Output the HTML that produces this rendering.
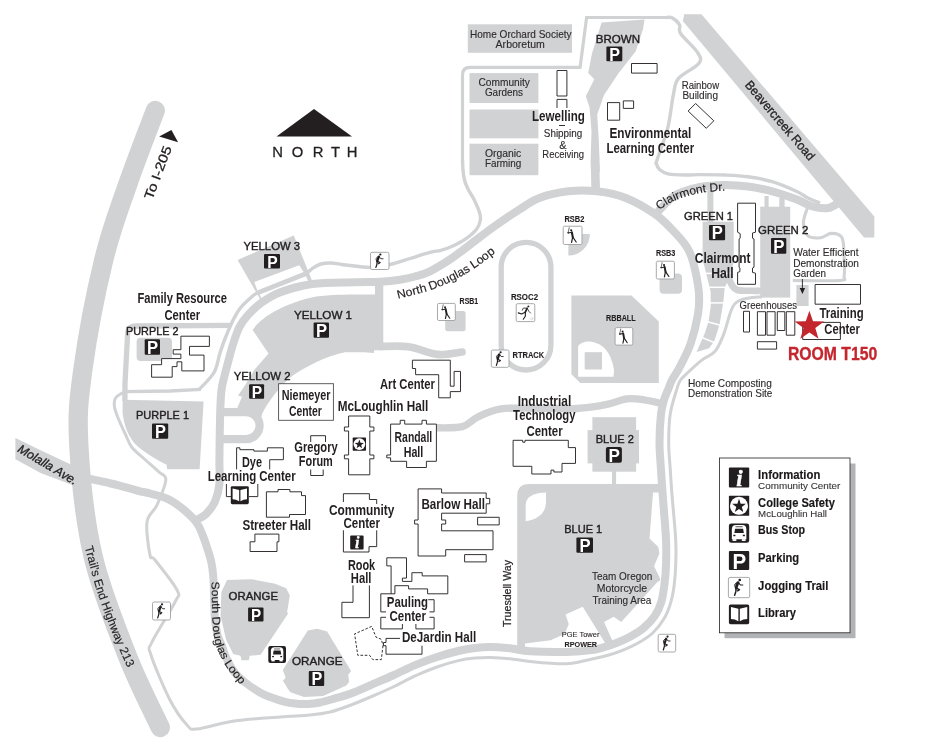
<!DOCTYPE html>
<html lang="en">
<head>
<meta charset="utf-8">
<title>Campus Map</title>
<style>
html,body{margin:0;padding:0;background:#fff;}
body{width:935px;height:740px;overflow:hidden;}
svg{display:block;will-change:transform;}
svg text{font-family:"Liberation Sans",sans-serif;}
</style>
</head>
<body>
<svg width="935" height="740" viewBox="0 0 935 740">
<rect width="935" height="740" fill="#fff"/>
<path d="M155.3 110.5 C150.7 122.9 136.1 160.1 127.5 185 C118.9 209.9 111.2 229.2 103.7 260 C96.2 290.8 87 339.2 82.8 370 C78.6 400.8 77.1 414.2 78.8 445 C80.5 475.8 84.8 520 92.8 555 C100.8 590 115.8 626.2 127 655 C138.2 683.8 154.8 715.4 160.3 727.5" fill="none" stroke="#d0d2d3" stroke-width="19.3" stroke-linecap="round" stroke-linejoin="round" />
<polygon points="15.4,438 40.6,450.3 69.8,464.1 82,470 82,490 73,485.2 40.6,473 15.4,459.2" fill="#d0d2d3" stroke="none" stroke-width="0" />
<polygon points="684.3,14.3 701.5,14.3 874.3,216.5 874.3,237.5 864,237.5 682.8,21" fill="#d0d2d3" stroke="none" stroke-width="0" />
<path d="M122.6 399.8 L203.6 401.6 L199.6 469.2 L167.2 469.2 L166.5 464.5 C158 461 142 451 134.7 443.5 C129 437 124 426 122.6 413 Z" fill="#d0d2d3"/>
<rect x="136.6" y="337.8" width="35.4" height="23.2" rx="4" fill="#d0d2d3" stroke="none" stroke-width="0" />
<polygon points="237.6,259.9 293.8,235.6 312.6,282 262,302.5" fill="#d0d2d3" stroke="none" stroke-width="0" />
<polygon points="254.3,282.1 299.2,265.3 303.6,272 257.3,290.4" fill="#fff" stroke="none" stroke-width="0" />
<polygon points="259.7,294.6 305.9,276.2 309,282.5 290,289.5 275,296.5 263,303" fill="#fff" stroke="none" stroke-width="0" />
<path d="M252.6 330 C262 316 285 303 316 296.5 C336 294 360 294.5 375 294.5 L375 284 L383.3 284 L383.3 350.3 L374 350.3 L374 353 C360 352 345 352.3 345 352.3 C326 356.4 305.4 366.2 288.7 378.7 C276.2 391.2 267.9 402.3 262.3 413.4 L260.9 419 L237.3 408 L242 396.8 L238 395.4 L244.9 385.6 L254 370.3 L268.5 353.6 Z" fill="#d0d2d3"/>
<path d="M221 412.1 L246.1 412.1 A13.5 13.5 0 0 1 246.1 439.1 L221 439.1" fill="none" stroke="#d0d2d3" stroke-width="8.2"/>
<path d="M380 346.5 C384.8 346.5 398.9 345.4 408.5 346.7 C418.1 348 428.5 353.5 437.4 354.4 C446.3 355.3 457.9 352.4 462 352" fill="none" stroke="#d0d2d3" stroke-width="7.7" stroke-linecap="round" stroke-linejoin="round" />
<polygon points="227,580 251.5,579.2 275.2,583.7 286.2,588.3 289.8,595.5 287.1,612 288,613.8 260.6,654.8 249.7,655.8 248.8,660.3 241.5,660.3 240.5,655.8 233.2,654 226,639.5 220.5,615.6 221.4,592" fill="#d0d2d3" stroke="none" stroke-width="0" />
<polygon points="307.8,630.6 317.4,628.7 327.1,631.6 351.1,671.1 348.2,674.9 349.2,681.7 346.3,685.5 323.2,696.1 304,697.1 290.5,692.3 287.6,688.4 284.7,683.6 282.8,680.7 285.7,677.8 282.8,670.1" fill="#d0d2d3" stroke="none" stroke-width="0" />
<rect x="592.4" y="417.2" width="43.7" height="54.5" rx="0" fill="#d0d2d3" stroke="none" stroke-width="0" />
<rect x="587.6" y="430.1" width="51.4" height="33.3" rx="0" fill="#d0d2d3" stroke="none" stroke-width="0" />
<rect x="612" y="470" width="4.1" height="15" rx="0" fill="#d0d2d3" stroke="none" stroke-width="0" />
<path d="M517.2 650 L517.2 496 Q517.2 483.9 529 483.9 L662 483.9 L662 492.5 L653 492.5 L649.5 538.5 L658.3 547 L659.4 553.4 L654 566.3 L659.4 577 L660.4 580.2 L657.2 582.3 L621.2 622.1 L613.7 616.7 L604 622 L613 642 L607 646 L582.7 606.7 L565.6 614.6 L568.8 624.2 L564.5 633.9 L550.6 640.3 L525 643.5 L525 650 Z" fill="#d0d2d3"/>
<path d="M525.7 521.3 L525.7 505 Q526 493 546 492.5 L546 503 Q545 518 525.7 521.3 Z" fill="#fff"/>
<polygon points="601.6,22.6 644.6,19.6 643,29.3 635.7,51.2 618.7,73.1 604,95 597.2,114.5 598.8,141.2 599.6,160.7 599.8,172 591,172 590.6,160.7 591.5,131.5 589.5,107.2 585.8,96.2 594.3,79.2 588.2,73.1 591.9,53.7" fill="#d0d2d3" stroke="none" stroke-width="0" />
<path d="M595.2 165 C595.2 167.2 595.3 173.5 595.4 178 C595.5 182.5 595.7 189.7 595.8 192" fill="none" stroke="#d0d2d3" stroke-width="8.6" stroke-linecap="butt" stroke-linejoin="round" />
<rect x="467.8" y="24.3" width="104.2" height="28.5" rx="0" fill="#d0d2d3" stroke="none" stroke-width="0" />
<rect x="469.5" y="73.1" width="68.9" height="29.9" rx="0" fill="#d0d2d3" stroke="none" stroke-width="0" />
<rect x="469.5" y="109.5" width="68.9" height="28.8" rx="0" fill="#d0d2d3" stroke="none" stroke-width="0" />
<rect x="469.5" y="143.7" width="68.9" height="31.5" rx="0" fill="#d0d2d3" stroke="none" stroke-width="0" />
<rect x="702.6" y="221.7" width="31.1" height="41.3" rx="0" fill="#d0d2d3" stroke="none" stroke-width="0" />
<rect x="707.4" y="190" width="6" height="33" rx="0" fill="#d0d2d3" stroke="none" stroke-width="0" />
<polygon points="703.3,262 707,276.9 710.7,291.7 710.7,306.6 708.5,321.5 704.7,333.4 699.5,345.3 696.6,352 709.2,348.2 714.4,340.8 719.6,324.5 723.3,302.1 724.8,287.3 730,276.9 733.7,262" fill="#d0d2d3" stroke="none" stroke-width="0" />
<path d="M703 273.4 L734 273.4" stroke="#fff" stroke-width="1.5"/>
<path d="M708 287.3 L727 287.3" stroke="#fff" stroke-width="1.5"/>
<path d="M708 302.9 L726 302.9" stroke="#fff" stroke-width="1.5"/>
<path d="M705 321 L722 325.8" stroke="#fff" stroke-width="1.5"/>
<path d="M700 336.8 L716 343.2" stroke="#fff" stroke-width="1.5"/>
<rect x="760.2" y="206.7" width="30" height="90.9" rx="0" fill="#d0d2d3" stroke="none" stroke-width="0" />
<rect x="764.5" y="196" width="4.1" height="12" rx="0" fill="#d0d2d3" stroke="none" stroke-width="0" />
<rect x="779.3" y="198" width="5.3" height="10" rx="0" fill="#d0d2d3" stroke="none" stroke-width="0" />
<path d="M790 291 C784.2 291 763.8 291 755 290.8 C746.2 290.6 741.5 291.2 737.5 290 C733.5 288.8 732.6 286.2 731 283.5 C729.4 280.8 728.5 275.6 728 274" fill="none" stroke="#d0d2d3" stroke-width="6.7" stroke-linecap="butt" stroke-linejoin="round" />
<rect x="796.4" y="285" width="12.2" height="21" rx="0" fill="#d0d2d3" stroke="none" stroke-width="0" />
<polygon points="571.4,295.4 631.5,295.4 658.8,321.4 658.8,383 580.4,383 571.4,374.3" fill="#d0d2d3" stroke="none" stroke-width="0" />
<path d="M578.1 376.8 L578.1 346 Q582 341 590 341.5 Q610 344 614 370 L613.5 376.8 Z" fill="#fff"/>
<rect x="584.7" y="352.2" width="17.3" height="17.3" rx="0" fill="#d0d2d3" stroke="none" stroke-width="0" />
<rect x="445.2" y="310.9" width="20.4" height="20.3" rx="2.5" fill="#d0d2d3" stroke="none" stroke-width="0" />
<rect x="659.6" y="273.4" width="22.4" height="20.3" rx="4" fill="#d0d2d3" stroke="none" stroke-width="0" />
<path d="M568.4 234.1 L589.9 234.1 A21.5 21.5 0 0 1 568.4 255.6 Z" fill="#d0d2d3"/>
<rect x="501.2" y="242.4" width="49.7" height="127.6" rx="24.8" fill="none" stroke="#d0d2d3" stroke-width="5.3"/>
<path d="M86 478 C89.2 478.7 99 480.6 105 482 C111 483.4 116.2 484.8 122 486.3 C127.8 487.9 135.3 490.1 140 491.3 C144.7 492.5 145.4 492.2 150 493.5 C154.6 494.8 162 496.2 167.6 498.8 C173.2 501.4 178.6 505.4 183.4 509.4 C188.2 513.4 193.3 518.2 196.6 522.6 C199.9 527 201.2 531.6 203 536 C204.8 540.4 206.1 544.7 207.5 549 C208.9 553.3 210.3 557.2 211.3 562 C212.3 566.8 212.9 571.7 213.4 578 C213.9 584.3 213.9 593 214.2 600 C214.5 607 214.4 614.2 215 620 C215.6 625.8 216.4 630.8 217.5 635 C218.6 639.2 220.3 641.6 221.6 645 C222.9 648.4 223.3 651 225.2 655.3 C227.1 659.6 229.9 666.1 233.2 670.6 C236.5 675.1 240.7 678.9 245.2 682.5 C249.7 686.1 255.3 689.8 260 692.4 C264.7 695 269.4 696.7 273.6 698.3 C277.8 699.9 281.4 700.9 285 701.8 C288.6 702.7 291.3 703.1 295 703.5 C298.7 703.9 303.1 704.2 307.3 704 C311.5 703.8 315.4 703.4 320 702.5 C324.6 701.6 329.8 699.9 335 698.4 C340.2 696.9 344.7 695.9 351 693.5 C357.3 691.1 365.6 687.3 372.8 684.2 C380 681.1 386.9 678.2 394 675 C401.1 671.8 408.4 667.9 415.6 664.9 C422.8 661.9 429.9 659.3 437 657 C444.1 654.7 452 652.5 458.3 651 C464.6 649.5 469.6 648.7 475 648 C480.4 647.3 484.6 646.9 490.4 646.9 C496.2 646.9 503.4 647.6 510 648.3 C516.6 649 520.7 650.7 530 651.3 C539.3 651.9 555.6 652.2 565.6 652 C575.6 651.8 584.1 650.9 590 650.3 C595.9 649.6 596.3 649.4 600.8 648.1 C605.3 646.8 612 644.7 617 642.7 C622 640.7 626.5 638.7 631 636.2 C635.5 633.7 640 631 644 627.6 C648 624.2 652 620 654.9 615.7 C657.8 611.4 659.8 607.1 661.4 601.6 C663 596.1 663.8 589.1 664.6 583 C665.4 576.9 665.8 572.2 666 565 C666.2 557.8 666.5 551.2 666 539.5 C665.5 527.8 663.5 506.5 662.7 494.9 C661.9 483.3 661.5 478.6 661 470 C660.5 461.4 659.5 452.3 659.5 443 C659.5 433.7 660.2 421.2 661 414 C661.8 406.8 662.8 404.2 664 400 C665.2 395.8 667.2 391.9 668.5 388.6 C669.8 385.3 670.2 383.5 672 380 C673.8 376.5 676.4 373.5 679.5 367.5 C682.6 361.5 687.5 352.7 690.6 343.8 C693.7 334.9 696.6 322.7 698 314 C699.4 305.3 699.6 300.4 698.8 291.7 C698 283 695.1 269.5 693.1 262 C691.1 254.5 690 251.9 686.5 246.5 C683 241.1 677.3 234.9 672 229.5 C666.7 224.1 662.5 219.2 654.8 213.9 C647.1 208.7 635.5 201.8 625.9 198 C616.3 194.2 606.6 192.4 597 191.3 C587.4 190.2 577.7 190.2 568.1 191.3 C558.5 192.4 547.3 195 539.3 198 C531.3 201 527.4 204.4 520 209.1 C512.6 213.8 502.7 220.5 494.9 226 C487.1 231.5 480.4 236.8 473.2 242.2 C466 247.6 458.8 253.5 451.6 258.4 C444.4 263.2 436.1 268.3 430 271.3 C423.9 274.3 420 275.1 415 276.5 C410 277.9 405.8 278.9 400 279.8 C394.2 280.7 387.5 281.4 380 281.8 C372.5 282.2 366.1 281.9 354.8 282.3 C343.5 282.7 324.9 282.3 312.4 284 C299.9 285.7 288.4 289.2 279.7 292.5 C271 295.8 265.8 299.6 260.4 303.5 C255 307.4 251 311.8 247.5 315.7 C244 319.6 241.8 322.5 239.5 326.8 C237.2 331.1 235.5 336.9 234 341.3 C232.5 345.7 231.9 347.9 230.5 353 C229.1 358.1 226.9 366.7 225.5 372 C224.1 377.3 223.1 380.7 222.3 385 C221.5 389.3 221.2 390.5 220.8 398 C220.4 405.5 220 419.7 219.8 430 C219.6 440.3 219.5 451 219.4 460 C219.3 469 220.1 477.1 219.4 484 C218.7 490.9 217.2 496.5 215 501.5 C212.8 506.5 209.3 510.7 206.2 513.8 C203.1 516.9 198.1 519 196.5 520" fill="none" stroke="#d0d2d3" stroke-width="8" stroke-linecap="butt" stroke-linejoin="round" />
<path d="M199 389.6 C201.5 386.8 210.5 378.6 214 372.5 C217.5 366.4 218.1 358.8 220 353 C221.9 347.2 223.2 343.2 225.3 338 C227.4 332.8 229.9 326.6 232.3 321.7 C234.8 316.8 236.9 312.5 240 308.5 C243.1 304.5 247.9 300.2 251 297.5 C254.1 294.8 253.3 294.8 258.4 292.4 C263.5 290 273.8 286.2 281.5 283.2 C289.2 280.2 299.5 276.6 304.6 274.2 C309.7 271.8 309.5 270.3 312.2 268.6 C314.9 266.9 317.9 264.9 321 264 C324.1 263.1 327.3 262.9 331 263 C334.7 263.1 336.7 263.9 343.2 264.7 C349.7 265.4 362.5 267.5 370.2 267.5 C377.9 267.5 382.8 266.2 389.4 264.7 C396 263.2 403.2 260.6 410 258.5 C416.8 256.4 424.9 253.8 430 252.4 C435.1 251 437.2 251.3 440.8 250.3 C444.4 249.3 447.5 248.4 451.6 246.5 C455.8 244.6 461.6 241.8 465.7 238.9 C469.8 236 474.1 232.3 476.5 229.2 C478.9 226.1 479.8 223.2 480.3 220.5 C480.8 217.8 480.7 216.4 479.7 213 C478.7 209.6 476.2 204 474.3 200 C472.4 196 469.6 192.3 468 189 C466.4 185.7 465.3 183.2 464.5 180 C463.7 176.8 463.3 173.3 463 170 C462.7 166.7 462.6 161.7 462.5 160" fill="none" stroke="#d0d2d3" stroke-width="3.4" stroke-linecap="butt" stroke-linejoin="round" />
<path d="M462.5 162 L462.5 75 Q462.5 67.3 470 67.3 L580.1 67.3 L586.6 17.5 L668 17.5" fill="none" stroke="#d0d2d3" stroke-width="3.2"/>
<path d="M666 17.5 C667 17.6 669.7 16.6 672 17.8 C674.3 19.1 678.2 22.4 679.6 25 C681 27.6 677.6 28.9 680.6 33.5 C683.6 38.1 694.8 47.8 697.8 52.8 C700.8 57.8 702 59.2 698.8 63.5 C695.6 67.8 682.8 73.1 678.5 78.4 C674.2 83.8 675 87.4 673.2 95.6 C671.4 103.8 670.5 116.9 667.8 127.6 C665.1 138.3 659 153.5 657.1 159.7 C655.2 165.8 656.3 162.9 656.7 164.5 C657.1 166.1 657.6 167.9 659.5 169.5 C661.4 171.1 663.6 172.9 668 173.8 C672.4 174.7 680.3 174.9 685.6 175 C690.9 175.1 693.4 174.6 700 174.6 C706.6 174.6 717 174.6 725 175 C733 175.4 740.1 175.7 748 176.8 C755.9 177.9 764.2 179.3 772.2 181.7 C780.2 184.1 790.2 188.5 796.3 191.3 C802.4 194.1 805 196.6 809 198.5 C813 200.4 818.2 202.2 820 203" fill="none" stroke="#d0d2d3" stroke-width="3.4" stroke-linecap="butt" stroke-linejoin="round" />
<path d="M230 325.4 L136 326 Q127.8 326 127.6 334 L125 383 L124.9 401" fill="none" stroke="#d0d2d3" stroke-width="5.3"/>
<path d="M124 391.6 L170 391 L201 389.4" fill="none" stroke="#d0d2d3" stroke-width="3.3"/>
<path d="M657.8 212 C660.6 209.2 667.9 199.7 674.9 195.5 C681.9 191.3 691.8 188.8 700 187 C708.2 185.2 716 185 724 184.9 C732 184.8 740.1 185.4 748.1 186.5 C756.1 187.6 764.2 189.2 772.2 191.3 C780.2 193.4 789.6 196.8 796.3 199.3 C803 201.8 807 204.9 812.3 206.3 C817.6 207.8 823.7 208.7 828.3 208 C832.9 207.3 838 203 840 202" fill="none" stroke="#d0d2d3" stroke-width="8" stroke-linecap="butt" stroke-linejoin="round" />
<path d="M436.4 427.8 C440.7 427.6 455.5 428.4 462.4 426.6 C469.3 424.8 471.4 420 477.8 417 C484.2 414 490.5 410.2 500.9 408.8 C511.3 407.4 527.3 408.4 540 408.3 C552.7 408.2 566 409.1 577 408.5 C588 407.9 597.6 406.3 605.9 404.7 C614.2 403.1 620.5 399.7 627 398.9 C633.5 398.1 639.3 399.2 645 400 C650.7 400.8 658.3 402.9 661 403.5" fill="none" stroke="#d0d2d3" stroke-width="7.3" stroke-linecap="butt" stroke-linejoin="round" />
<path d="M123 392.5 C121.8 393.4 116.9 395.6 115.5 398 C114.1 400.4 114 403.5 114.5 407 C115 410.5 116.7 414.5 118.5 419 C120.3 423.5 123 429.2 125.3 434 C127.5 438.8 128.6 443.2 132 447.5 C135.4 451.8 141 455.9 145.5 460 C150 464.1 155.6 468.7 159 472 C162.4 475.3 166.1 474.5 165.8 480 C165.5 485.5 160.1 498 157 505 C153.9 512 148.2 513.7 147 522 C145.8 530.3 148.7 548.7 150 555 C151.3 561.3 150.5 554.2 155 560 C159.5 565.8 173.7 583 177 590 C180.3 597 179.2 593.3 175 602 C170.8 610.7 156 633.2 152 642 C148 650.8 148 645.3 151 655 C154 664.7 164 688.3 170 700 C176 711.7 182.5 720.2 187 725 C191.5 729.8 189.2 729.7 197 729 C204.8 728.3 220.2 723 234 721 C247.8 719 267.3 718 280 717 C292.7 716 301.7 715.8 310 715 C318.3 714.2 323.2 713.7 330 712 C336.8 710.3 343.9 707.7 351 705 C358.1 702.3 365.6 699.1 372.8 696 C380 692.9 386.9 689.9 394 686.5 C401.1 683.1 408.4 678.9 415.6 675.6 C422.8 672.4 429.9 669.5 437 667 C444.1 664.5 452 662.1 458.3 660.6 C464.6 659.1 469.6 658.5 475 658 C480.4 657.5 484.6 657.3 490.4 657.4 C496.2 657.5 503.4 658 510 658.7 C516.6 659.4 520.7 660.6 530 661.5 C539.3 662.4 555.6 664.1 565.6 663.8 C575.6 663.5 583.2 660.9 590 659.5 C596.8 658.1 600.8 657.2 606.2 655.7 C611.6 654.2 617 652.5 622.4 650.3 C627.8 648.1 633.5 645.6 638.6 642.7 C643.7 639.8 648.4 637.1 652.7 633 C657 628.9 661.6 623 664.6 617.8 C667.6 612.6 669.4 607.1 671 601.6 C672.6 596.1 673.4 591.1 674.2 585 C675 578.9 675.5 572.6 675.7 565 C676 557.4 676.3 551.2 675.7 539.5 C675.1 527.8 672.9 506.5 672 494.9 C671.1 483.3 670.8 478.6 670.3 470 C669.8 461.4 668.7 452.3 668.7 443 C668.7 433.7 668.8 423.3 670.2 414.2 C671.6 405.1 675.3 394.3 677 388.6 C678.7 382.9 678.6 382.8 680.5 380 C682.4 377.2 684.9 375.3 688.4 372 C691.9 368.7 697.3 363.6 701.8 360.1 C706.2 356.6 711.4 355.6 715.1 351.2 C718.8 346.8 721.3 340.3 724 333.4 C726.7 326.5 729 315.1 731.5 309.6 C734 304.2 735.1 302.8 739 300.7 C742.9 298.6 751.2 297.8 755 297.2 C758.8 296.6 760.8 297 762 297" fill="none" stroke="#d0d2d3" stroke-width="3" stroke-linecap="butt" stroke-linejoin="round" />
<path d="M807.7 207 C807 209.6 803.4 217.9 803.4 222.7 C803.4 227.5 804.8 233.1 807.7 235.6 C810.6 238.1 816.7 238.1 820.6 237.7 C824.5 237.3 827.7 233.4 831.3 233.4 C834.9 233.4 839.9 233.8 842 237.7 C844.1 241.6 843.8 250.6 844.1 257 C844.5 263.4 844.8 272.1 844.1 276 C843.4 279.9 848.3 279.8 839.8 280.5 C831.2 281.2 800.6 280.5 792.8 280.5" fill="none" stroke="#d0d2d3" stroke-width="3.1" stroke-linecap="butt" stroke-linejoin="round" />
<path d="M180.9 336.2 L209.4 336.2 L209.4 346.4 L189.5 346.4 L189.5 355.1 L204 355.1 L204 370.9 L181.8 370.9 L181.8 361.8 L177 361.8 L177 366.6 L172.2 366.6 L172.2 377.2 L151.6 377.2 L151.6 364.7 L161.6 364.7 L161.6 358.6 L180.9 358.6 L180.9 354.1 L173.2 354.1 L173.2 349.7 L180.9 349.7Z" fill="#fff" stroke="#2b2728" stroke-width="0.95"/>
<rect x="278.6" y="383.7" width="54.8" height="36.6" rx="0" fill="#fff" stroke="#4d4d4f" stroke-width="0.9" />
<path d="M348.6 416 L369.8 416 L369.8 427 L373.9 427 L373.9 431 L369.8 431 L369.8 455 L373.9 455 L373.9 458.8 L369.8 458.8 L369.8 474.8 L348.6 474.8 L348.6 458.8 L344.4 458.8 L344.4 455 L348.6 455 L348.6 431 L344.4 431 L344.4 427 L348.6 427Z" fill="#fff" stroke="#2b2728" stroke-width="0.95"/>
<path d="M310.7 442 L310.7 435.7 L325.5 435.7 L325.5 442" fill="none" stroke="#2b2728" stroke-width="0.95"/>
<path d="M310.7 469.5 L310.7 475.5 L323.2 475.5 L323.2 469.5" fill="none" stroke="#2b2728" stroke-width="0.95"/>
<path d="M236.6 469.4 L236.6 447.8 L239.9 447.8 L239.9 449.7 L253.9 449.7 L253.9 451.1 L267.4 451.1 L267.4 447.8 L283.4 447.8 L283.4 459.7 L269.7 459.7 L269.7 469.4" fill="none" stroke="#2b2728" stroke-width="0.95"/>
<path d="M226.4 484 L226.4 496.6 L231 496.6" fill="none" stroke="#2b2728" stroke-width="0.95"/>
<path d="M257.8 484 L257.8 496.6 L249 496.6" fill="none" stroke="#2b2728" stroke-width="0.95"/>
<path d="M266.4 491.8 L278 491.8 L278 489.5 L289.9 489.5 L289.9 491.8 L301.5 491.8 L301.5 495.6 L305.5 495.6 L305.5 514.5 L289.5 514.5 L289.5 517.2 L266.4 517.2Z" fill="#fff" stroke="#2b2728" stroke-width="0.95"/>
<path d="M250.1 541.8 L254.9 541.8 L254.9 534.1 L278.9 534.1 L278.9 541.8 L277 541.8 L277 551.5 L250.1 551.5Z" fill="#fff" stroke="#2b2728" stroke-width="0.95"/>
<path d="M343.4 502 L343.4 493.7 L369.4 493.7 L369.4 499.5 L376.7 499.5 L376.7 504" fill="none" stroke="#2b2728" stroke-width="0.95"/>
<path d="M376.7 530.3 L376.7 546.6 L369 546.6 L369 552 L343.4 552 L343.4 530.3" fill="none" stroke="#2b2728" stroke-width="0.95"/>
<path d="M353 585.4 L353 602.3 L341.9 602.3 L341.9 617.7 L369.4 617.7 L369.4 585.4" fill="none" stroke="#2b2728" stroke-width="0.95"/>
<path d="M412.4 360.2 L450.3 360.2 L450.3 386.2 L454.1 386.2 L454.1 371.4 L460.5 371.4 L460.5 391.6 L450.3 391.6 L450.3 397.8 L438.7 397.8 L438.7 374.7 L415.6 374.7 L415.6 368.5 L412.4 368.5Z" fill="#fff" stroke="#2b2728" stroke-width="0.95"/>
<path d="M390.6 424.1 L400.2 424.1 L400.2 420.3 L404.7 420.3 L404.7 424.1 L422 424.1 L422 420.3 L426.4 420.3 L426.4 424.1 L436.4 424.1 L436.4 461.3 L426.4 461.3 L426.4 467.5 L406.6 467.5 L406.6 461.3 L390.6 461.3 L390.6 457.8 L386.8 457.8 L386.8 455 L390.6 455Z" fill="#fff" stroke="#2b2728" stroke-width="0.95"/>
<path d="M513.1 440.3 L522.7 440.3 L522.7 442.2 L525 442.2 L525 440.3 L568.3 440.3 L568.3 447.6 L575.5 447.6 L575.5 463.4 L562 463.4 L562 472 L553.9 472 L553.9 470.1 L551 470.1 L551 474 L531.8 474 L531.8 466.3 L513.1 466.3Z" fill="#fff" stroke="#2b2728" stroke-width="0.95"/>
<path d="M418.1 488.9 L441.6 488.9 L441.6 493 L486.2 493 L486.2 498.4 L489.7 498.4 L489.7 503.8 L486.2 503.8 L486.2 513.2 L441.6 513.2 L441.6 520 L445.7 520 L445.7 524 L441.6 524 L441.6 530.8 L493 530.8 L493 549.7 L445.7 549.7 L445.7 556 L418.1 556 L418.1 524 L414.6 524 L414.6 520 L418.1 520Z" fill="#fff" stroke="#2b2728" stroke-width="0.95"/>
<path d="M477.6 517.3 L499.2 517.3 L499.2 524.9 L477.6 524.9Z" fill="#fff" stroke="#2b2728" stroke-width="0.95"/>
<path d="M464.6 554.6 L486.2 554.6 L486.2 561.9 L464.6 561.9Z" fill="#fff" stroke="#2b2728" stroke-width="0.95"/>
<path d="M391.1 593.8 L391.1 565.9 L386.8 565.9 L386.8 557.8 L406.5 557.8 L406.5 578.1 L402.4 578.1 L402.4 581.4 L411.9 581.4 L411.9 572.7 L422.2 572.7 L422.2 575.9 L447.8 575.9 L447.8 593.8 L427.6 593.8 L427.6 588.9 L408.6 588.9 L408.6 585.7 L394.9 585.7 L394.9 593.8" fill="none" stroke="#2b2728" stroke-width="0.95"/>
<path d="M394.9 593.8 L380.8 593.8 L380.8 611.9 L386 611.9" fill="none" stroke="#2b2728" stroke-width="0.95"/>
<path d="M386 617.3 L380.8 617.3 L380.8 628.9 L402.4 628.9 L402.4 624" fill="none" stroke="#2b2728" stroke-width="0.95"/>
<path d="M415.9 624 L415.9 628.9 L434.1 628.9 L434.1 617.3 L429.5 617.3" fill="none" stroke="#2b2728" stroke-width="0.95"/>
<path d="M429.5 611.9 L434.1 611.9 L434.1 599.7 L428.2 599.7" fill="none" stroke="#2b2728" stroke-width="0.95"/>
<path d="M400 638.4 L386 638.4 L386 642.5 L383.5 642.5 L383.5 645.7 L386 645.7 L386 654.2 L422 654.2 L422 645.7" fill="none" stroke="#2b2728" stroke-width="0.95"/>
<path d="M383 645.7 L381.3 659.6 L372.8 659.6 L369.6 655.3 L357.8 655.3 L354.6 633.9 L371.7 626.4 L376 637.1 L381.3 639.3 L383 645.7" fill="none" stroke="#2b2728" stroke-width="0.95" stroke-dasharray="2.6 1.7"/>
<path d="M557 70.5 L566.9 70.5 L566.9 96 L557 96Z" fill="#fff" stroke="#2b2728" stroke-width="0.95"/>
<path d="M557 108 L557 99.4 L566.9 99.4 L566.9 108" fill="none" stroke="#2b2728" stroke-width="0.95"/>
<path d="M559 125.5 L565 125.5" fill="none" stroke="#2b2728" stroke-width="0.95"/>
<path d="M631.5 63.5 L657.1 63.5 L657.1 73.1 L631.5 73.1Z" fill="#fff" stroke="#2b2728" stroke-width="0.95"/>
<path d="M607.5 102.6 L619.7 102.6 L619.7 120.2 L607.5 120.2Z" fill="#fff" stroke="#2b2728" stroke-width="0.95"/>
<path d="M623.3 100.9 L633.6 100.9 L633.6 108.4 L623.3 108.4Z" fill="#fff" stroke="#2b2728" stroke-width="0.95"/>
<path d="M695.6 103.5 L713.8 120.8 L706.3 128.3 L688.1 111Z" fill="#fff" stroke="#2b2728" stroke-width="0.95"/>
<path d="M737.6 203.2 L755.5 203.2 L755.5 232.2 L752.5 233 L752.5 238.2 L754 239 L754 267.2 L752.5 268 L752.5 272.4 L755.5 273.2 L755.5 284.3 L737.6 284.3 L737.6 272.4 L739.9 271.6 L739.9 268 L739.1 267.2 L739.1 239 L740.2 238.2 L740.2 233.7 L737.6 232.2Z" fill="#fff" stroke="#2b2728" stroke-width="0.95"/>
<path d="M815.1 284.5 L860.5 284.5 L860.5 304.2 L815.1 304.2Z" fill="#fff" stroke="#2b2728" stroke-width="0.95"/>
<path d="M802.7 322.4 L840.4 322.4 L840.4 339.5 L802.7 339.5Z" fill="#fff" stroke="#2b2728" stroke-width="0.95"/>
<path d="M743.5 311.3 L749.5 311.3 L749.5 332 L743.5 332Z" fill="#fff" stroke="#2b2728" stroke-width="0.95"/>
<path d="M757.4 311.7 L765.5 311.7 L765.5 335.2 L757.4 335.2Z" fill="#fff" stroke="#2b2728" stroke-width="0.95"/>
<path d="M767 311.7 L775.1 311.7 L775.1 335.2 L767 335.2Z" fill="#fff" stroke="#2b2728" stroke-width="0.95"/>
<path d="M777.3 311.7 L784.8 311.7 L784.8 330.5 L777.3 330.5Z" fill="#fff" stroke="#2b2728" stroke-width="0.95"/>
<path d="M786.3 311.7 L794.8 311.7 L794.8 335.2 L786.3 335.2Z" fill="#fff" stroke="#2b2728" stroke-width="0.95"/>
<path d="M757.4 341.7 L776.6 341.7 L776.6 349.1 L757.4 349.1Z" fill="#fff" stroke="#2b2728" stroke-width="0.95"/>
<polygon points="314,109 276.5,136.5 352,136.5" fill="#231f20" stroke="none" stroke-width="0" />
<text x="277.5" y="156.5" font-size="14.8" fill="#231f20" stroke="#231f20" stroke-width="0.3" stroke-linejoin="round" text-anchor="middle">N</text>
<text x="297.5" y="156.5" font-size="14.8" fill="#231f20" stroke="#231f20" stroke-width="0.3" stroke-linejoin="round" text-anchor="middle">O</text>
<text x="318" y="156.5" font-size="14.8" fill="#231f20" stroke="#231f20" stroke-width="0.3" stroke-linejoin="round" text-anchor="middle">R</text>
<text x="335.5" y="156.5" font-size="14.8" fill="#231f20" stroke="#231f20" stroke-width="0.3" stroke-linejoin="round" text-anchor="middle">T</text>
<text x="352" y="156.5" font-size="14.8" fill="#231f20" stroke="#231f20" stroke-width="0.3" stroke-linejoin="round" text-anchor="middle">H</text>
<polygon points="159.2,136.4 171.4,130 178.1,142.2" fill="#231f20" stroke="none" stroke-width="0" />
<text x="152.3" y="200.3" font-size="13" fill="#231f20" stroke="#231f20" stroke-width="0.3" stroke-linejoin="round" textLength="56" lengthAdjust="spacingAndGlyphs" transform="rotate(-69.5 152.3 200.3)">To I-205</text>
<text x="16.8" y="451.3" font-size="12.3" fill="#231f20" stroke="#231f20" stroke-width="0.3" stroke-linejoin="round" textLength="67" lengthAdjust="spacingAndGlyphs" transform="rotate(30.5 16.8 451.3)" style="font-style:italic">Molalla Ave.</text>
<path id="pTE" d="M84.8 547 C86.8 554.3 92.2 576.2 97 591 C101.8 605.8 107.4 621 113.5 636 C119.6 651 130.2 673.5 133.5 681" fill="none"/>
<text font-size="11.8" fill="#231f20" stroke="#231f20" stroke-width="0.15"><textPath href="#pTE" startOffset="0" textLength="128" lengthAdjust="spacingAndGlyphs">Trail’s End Highway 213</textPath></text>
<path id="pSD" d="M211.6 581.5 C211.6 584.6 211.7 593.6 211.8 600 C212 606.4 212.1 613.3 212.5 620 C212.9 626.7 213.5 634.7 214.5 640 C215.5 645.3 216.7 647.9 218.5 652 C220.3 656.1 222.8 660.9 225.2 664.8 C227.6 668.7 230.3 672 233 675.5 C235.7 679 240.1 684.2 241.5 686" fill="none"/>
<text font-size="11.3" fill="#231f20" stroke="#231f20" stroke-width="0.15"><textPath href="#pSD" textLength="111" lengthAdjust="spacingAndGlyphs">South Douglas Loop</textPath></text>
<path id="pND" d="M398 298.8 C403.3 297.4 420.9 293.3 429.6 290.5 C438.3 287.7 443.6 285 450 282 C456.4 279 462.7 275.6 468 272.4 C473.3 269.2 477.2 266.5 482 263 C486.8 259.5 494.5 253.4 497 251.5" fill="none"/>
<text font-size="11.8" fill="#231f20" stroke="#231f20" stroke-width="0.15"><textPath href="#pND" textLength="109" lengthAdjust="spacingAndGlyphs">North Douglas Loop</textPath></text>
<path id="pCD" d="M659 210 C661.8 208.3 669.2 202.8 676 200 C682.8 197.2 691.7 194.6 700 193 C708.3 191.4 721.7 190.9 726 190.5" fill="none"/>
<text font-size="11.8" fill="#231f20" stroke="#231f20" stroke-width="0.15"><textPath href="#pCD" textLength="70" lengthAdjust="spacingAndGlyphs">Clairmont Dr.</textPath></text>
<text x="744.3" y="85.2" font-size="12.8" fill="#231f20" stroke="#231f20" stroke-width="0.3" stroke-linejoin="round" textLength="100" lengthAdjust="spacingAndGlyphs" transform="rotate(49.6 744.3 85.2)">Beavercreek Road</text>
<text x="510.5" y="627" font-size="10.4" fill="#2e2a2b" stroke="#2e2a2b" stroke-width="0.25" stroke-linejoin="round" textLength="67" lengthAdjust="spacingAndGlyphs" transform="rotate(-90 510.5 627)">Truesdell Way</text>
<text x="243.5" y="250" font-size="11.6" fill="#231f20" stroke="#231f20" stroke-width="0.42" stroke-linejoin="round" textLength="56.5" lengthAdjust="spacingAndGlyphs">YELLOW 3</text>
<rect x="264" y="254" width="16" height="14.5" rx="1" fill="#231f20" stroke="none" stroke-width="0" />
<text x="272.4" y="267.8" font-size="17.4" font-weight="bold" fill="#fff" text-anchor="middle" transform="translate(272 0) scale(0.9 1) translate(-272 0)">P</text>
<text x="294" y="318.5" font-size="11.6" fill="#231f20" stroke="#231f20" stroke-width="0.42" stroke-linejoin="round" textLength="58" lengthAdjust="spacingAndGlyphs">YELLOW 1</text>
<rect x="313.6" y="322.4" width="15.4" height="15.4" rx="1" fill="#231f20" stroke="none" stroke-width="0" />
<text x="321.7" y="337" font-size="18.5" font-weight="bold" fill="#fff" text-anchor="middle" transform="translate(321.3 0) scale(0.9 1) translate(-321.3 0)">P</text>
<text x="233.7" y="380.2" font-size="11.6" fill="#231f20" stroke="#231f20" stroke-width="0.42" stroke-linejoin="round" textLength="56.8" lengthAdjust="spacingAndGlyphs">YELLOW 2</text>
<rect x="249.1" y="384.3" width="15" height="14.4" rx="1" fill="#231f20" stroke="none" stroke-width="0" />
<text x="257" y="398" font-size="17.3" font-weight="bold" fill="#fff" text-anchor="middle" transform="translate(256.6 0) scale(0.9 1) translate(-256.6 0)">P</text>
<text x="126" y="335" font-size="11.6" fill="#231f20" stroke="#231f20" stroke-width="0.42" stroke-linejoin="round" textLength="52.5" lengthAdjust="spacingAndGlyphs">PURPLE 2</text>
<rect x="144.7" y="339.3" width="15.3" height="15.4" rx="1" fill="#231f20" stroke="none" stroke-width="0" />
<text x="152.7" y="353.9" font-size="18.5" font-weight="bold" fill="#fff" text-anchor="middle" transform="translate(152.3 0) scale(0.9 1) translate(-152.3 0)">P</text>
<text x="136" y="419.2" font-size="11.6" fill="#231f20" stroke="#231f20" stroke-width="0.42" stroke-linejoin="round" textLength="53" lengthAdjust="spacingAndGlyphs">PURPLE 1</text>
<rect x="152" y="423.6" width="16.2" height="15.2" rx="1" fill="#231f20" stroke="none" stroke-width="0" />
<text x="160.4" y="438" font-size="18.2" font-weight="bold" fill="#fff" text-anchor="middle" transform="translate(160.1 0) scale(0.9 1) translate(-160.1 0)">P</text>
<text x="228.5" y="599.8" font-size="11.6" fill="#231f20" stroke="#231f20" stroke-width="0.42" stroke-linejoin="round" textLength="49.5" lengthAdjust="spacingAndGlyphs">ORANGE</text>
<rect x="248.1" y="607.5" width="15.4" height="14.1" rx="1" fill="#231f20" stroke="none" stroke-width="0" />
<text x="256.2" y="620.9" font-size="16.9" font-weight="bold" fill="#fff" text-anchor="middle" transform="translate(255.8 0) scale(0.9 1) translate(-255.8 0)">P</text>
<text x="292" y="665.3" font-size="11.6" fill="#231f20" stroke="#231f20" stroke-width="0.42" stroke-linejoin="round" textLength="50.5" lengthAdjust="spacingAndGlyphs">ORANGE</text>
<rect x="308.8" y="671" width="15.4" height="15" rx="1" fill="#231f20" stroke="none" stroke-width="0" />
<text x="316.9" y="685.2" font-size="18" font-weight="bold" fill="#fff" text-anchor="middle" transform="translate(316.5 0) scale(0.9 1) translate(-316.5 0)">P</text>
<text x="595.7" y="443.2" font-size="11.6" fill="#231f20" stroke="#231f20" stroke-width="0.42" stroke-linejoin="round" textLength="38.1" lengthAdjust="spacingAndGlyphs">BLUE 2</text>
<rect x="605.9" y="447" width="16" height="15.8" rx="2" fill="#231f20" stroke="none" stroke-width="0" />
<text x="614.2" y="462" font-size="19" font-weight="bold" fill="#fff" text-anchor="middle" transform="translate(613.9 0) scale(0.9 1) translate(-613.9 0)">P</text>
<text x="564.2" y="533.1" font-size="11.6" fill="#231f20" stroke="#231f20" stroke-width="0.42" stroke-linejoin="round" textLength="38" lengthAdjust="spacingAndGlyphs">BLUE 1</text>
<rect x="576.4" y="537.4" width="16.6" height="15.4" rx="1" fill="#231f20" stroke="none" stroke-width="0" />
<text x="585.1" y="552" font-size="18.5" font-weight="bold" fill="#fff" text-anchor="middle" transform="translate(584.7 0) scale(0.9 1) translate(-584.7 0)">P</text>
<text x="595.7" y="43.2" font-size="11.6" fill="#231f20" stroke="#231f20" stroke-width="0.42" stroke-linejoin="round" textLength="44.3" lengthAdjust="spacingAndGlyphs">BROWN</text>
<rect x="606.4" y="46.4" width="15.9" height="14.9" rx="1" fill="#231f20" stroke="none" stroke-width="0" />
<text x="614.7" y="60.6" font-size="17.9" font-weight="bold" fill="#fff" text-anchor="middle" transform="translate(614.3 0) scale(0.9 1) translate(-614.3 0)">P</text>
<text x="684" y="219.5" font-size="11.6" fill="#231f20" stroke="#231f20" stroke-width="0.42" stroke-linejoin="round" textLength="49" lengthAdjust="spacingAndGlyphs">GREEN 1</text>
<rect x="709" y="224.9" width="16.1" height="15.4" rx="1" fill="#231f20" stroke="none" stroke-width="0" />
<text x="717.4" y="239.5" font-size="18.5" font-weight="bold" fill="#fff" text-anchor="middle" transform="translate(717 0) scale(0.9 1) translate(-717 0)">P</text>
<text x="758.1" y="233.9" font-size="11.6" fill="#231f20" stroke="#231f20" stroke-width="0.42" stroke-linejoin="round" textLength="50.3" lengthAdjust="spacingAndGlyphs">GREEN 2</text>
<rect x="771" y="238.1" width="15.3" height="15.6" rx="1" fill="#231f20" stroke="none" stroke-width="0" />
<text x="779" y="252.9" font-size="18.7" font-weight="bold" fill="#fff" text-anchor="middle" transform="translate(778.6 0) scale(0.9 1) translate(-778.6 0)">P</text>
<text x="137.5" y="302.7" font-size="14" fill="#231f20" textLength="89.5" lengthAdjust="spacingAndGlyphs" font-weight="bold">Family Resource</text>
<text x="164.5" y="319.5" font-size="14" fill="#231f20" textLength="35.5" lengthAdjust="spacingAndGlyphs" font-weight="bold">Center</text>
<text x="281.8" y="400.4" font-size="14" fill="#231f20" textLength="48.7" lengthAdjust="spacingAndGlyphs" font-weight="bold">Niemeyer</text>
<text x="289" y="415.5" font-size="14" fill="#231f20" textLength="32.9" lengthAdjust="spacingAndGlyphs" font-weight="bold">Center</text>
<text x="337.7" y="411" font-size="14" fill="#231f20" textLength="90.6" lengthAdjust="spacingAndGlyphs" font-weight="bold">McLoughlin Hall</text>
<text x="294.3" y="452" font-size="14" fill="#231f20" textLength="43.4" lengthAdjust="spacingAndGlyphs" font-weight="bold">Gregory</text>
<text x="298.8" y="465.5" font-size="14" fill="#231f20" textLength="34" lengthAdjust="spacingAndGlyphs" font-weight="bold">Forum</text>
<text x="242" y="467" font-size="14" fill="#231f20" textLength="20" lengthAdjust="spacingAndGlyphs" font-weight="bold">Dye</text>
<text x="207.7" y="481" font-size="14" fill="#231f20" textLength="88" lengthAdjust="spacingAndGlyphs" font-weight="bold">Learning Center</text>
<text x="242.4" y="530.3" font-size="14" fill="#231f20" textLength="68.7" lengthAdjust="spacingAndGlyphs" font-weight="bold">Streeter Hall</text>
<text x="329" y="514.9" font-size="14" fill="#231f20" textLength="65.3" lengthAdjust="spacingAndGlyphs" font-weight="bold">Community</text>
<text x="343.4" y="528.3" font-size="14" fill="#231f20" textLength="36.6" lengthAdjust="spacingAndGlyphs" font-weight="bold">Center</text>
<text x="347.9" y="570.1" font-size="14" fill="#231f20" textLength="27.3" lengthAdjust="spacingAndGlyphs" font-weight="bold">Rook</text>
<text x="350.8" y="583.2" font-size="14" fill="#231f20" textLength="20.6" lengthAdjust="spacingAndGlyphs" font-weight="bold">Hall</text>
<text x="380" y="388.5" font-size="14" fill="#231f20" textLength="54.9" lengthAdjust="spacingAndGlyphs" font-weight="bold">Art Center</text>
<text x="394.6" y="441.7" font-size="14" fill="#231f20" textLength="37.6" lengthAdjust="spacingAndGlyphs" font-weight="bold">Randall</text>
<text x="403.7" y="457" font-size="14" fill="#231f20" textLength="19.6" lengthAdjust="spacingAndGlyphs" font-weight="bold">Hall</text>
<text x="517.7" y="406" font-size="14" fill="#231f20" textLength="53.5" lengthAdjust="spacingAndGlyphs" font-weight="bold">Industrial</text>
<text x="513.1" y="420.4" font-size="14" fill="#231f20" textLength="62.4" lengthAdjust="spacingAndGlyphs" font-weight="bold">Technology</text>
<text x="526.4" y="435.5" font-size="14" fill="#231f20" textLength="36.2" lengthAdjust="spacingAndGlyphs" font-weight="bold">Center</text>
<text x="421.4" y="509.2" font-size="14" fill="#231f20" textLength="63.5" lengthAdjust="spacingAndGlyphs" font-weight="bold">Barlow Hall</text>
<text x="386.8" y="607" font-size="14" fill="#231f20" textLength="41.3" lengthAdjust="spacingAndGlyphs" font-weight="bold">Pauling</text>
<text x="389.5" y="620.5" font-size="14" fill="#231f20" textLength="36.4" lengthAdjust="spacingAndGlyphs" font-weight="bold">Center</text>
<text x="401.9" y="642.2" font-size="14" fill="#231f20" textLength="74.3" lengthAdjust="spacingAndGlyphs" font-weight="bold">DeJardin Hall</text>
<text x="532" y="121.2" font-size="15.5" fill="#231f20" textLength="52.8" lengthAdjust="spacingAndGlyphs" font-weight="bold">Lewelling</text>
<text x="609.4" y="138.3" font-size="15.5" fill="#231f20" textLength="81.9" lengthAdjust="spacingAndGlyphs" font-weight="bold">Environmental</text>
<text x="606.4" y="152.9" font-size="15.5" fill="#231f20" textLength="87.7" lengthAdjust="spacingAndGlyphs" font-weight="bold">Learning Center</text>
<text x="694.8" y="263.4" font-size="14.2" fill="#231f20" textLength="55.6" lengthAdjust="spacingAndGlyphs" font-weight="bold">Clairmont</text>
<text x="711.2" y="278.3" font-size="14.2" fill="#231f20" textLength="22.5" lengthAdjust="spacingAndGlyphs" font-weight="bold">Hall</text>
<text x="819.4" y="318.1" font-size="14.5" fill="#231f20" textLength="44.3" lengthAdjust="spacingAndGlyphs" font-weight="bold">Training</text>
<text x="824.3" y="334.2" font-size="14.5" fill="#231f20" textLength="35.7" lengthAdjust="spacingAndGlyphs" font-weight="bold">Center</text>
<text x="470" y="38.2" font-size="10.2" fill="#2e2a2b" stroke="#2e2a2b" stroke-width="0.12" stroke-linejoin="round" textLength="101.6" lengthAdjust="spacingAndGlyphs">Home Orchard Society</text>
<text x="495.6" y="48.1" font-size="10.2" fill="#2e2a2b" stroke="#2e2a2b" stroke-width="0.12" stroke-linejoin="round" textLength="49.2" lengthAdjust="spacingAndGlyphs">Arboretum</text>
<text x="478.5" y="86.4" font-size="10.2" fill="#2e2a2b" stroke="#2e2a2b" stroke-width="0.12" stroke-linejoin="round" textLength="51.4" lengthAdjust="spacingAndGlyphs">Community</text>
<text x="484.9" y="96.2" font-size="10.2" fill="#2e2a2b" stroke="#2e2a2b" stroke-width="0.12" stroke-linejoin="round" textLength="38.1" lengthAdjust="spacingAndGlyphs">Gardens</text>
<text x="484.9" y="156.5" font-size="10.2" fill="#2e2a2b" stroke="#2e2a2b" stroke-width="0.12" stroke-linejoin="round" textLength="36.4" lengthAdjust="spacingAndGlyphs">Organic</text>
<text x="484.9" y="167.2" font-size="10.2" fill="#2e2a2b" stroke="#2e2a2b" stroke-width="0.12" stroke-linejoin="round" textLength="36.4" lengthAdjust="spacingAndGlyphs">Farming</text>
<text x="543.8" y="137.3" font-size="10.2" fill="#2e2a2b" stroke="#2e2a2b" stroke-width="0.12" stroke-linejoin="round" textLength="38.5" lengthAdjust="spacingAndGlyphs">Shipping</text>
<text x="563" y="149" font-size="11" fill="#2e2a2b" stroke="#2e2a2b" stroke-width="0.12" stroke-linejoin="round" text-anchor="middle">&amp;</text>
<text x="542.3" y="157.6" font-size="10.2" fill="#2e2a2b" stroke="#2e2a2b" stroke-width="0.12" stroke-linejoin="round" textLength="41.7" lengthAdjust="spacingAndGlyphs">Receiving</text>
<text x="681.7" y="88.7" font-size="10.2" fill="#2e2a2b" stroke="#2e2a2b" stroke-width="0.12" stroke-linejoin="round" textLength="37.4" lengthAdjust="spacingAndGlyphs">Rainbow</text>
<text x="682.4" y="98.8" font-size="10.2" fill="#2e2a2b" stroke="#2e2a2b" stroke-width="0.12" stroke-linejoin="round" textLength="35.6" lengthAdjust="spacingAndGlyphs">Building</text>
<text x="793.2" y="256.3" font-size="10.2" fill="#2e2a2b" stroke="#2e2a2b" stroke-width="0.12" stroke-linejoin="round" textLength="65.4" lengthAdjust="spacingAndGlyphs">Water Efficient</text>
<text x="793.2" y="266.6" font-size="10.2" fill="#2e2a2b" stroke="#2e2a2b" stroke-width="0.12" stroke-linejoin="round" textLength="65.8" lengthAdjust="spacingAndGlyphs">Demonstration</text>
<text x="793.2" y="276.6" font-size="10.2" fill="#2e2a2b" stroke="#2e2a2b" stroke-width="0.12" stroke-linejoin="round" textLength="32.8" lengthAdjust="spacingAndGlyphs">Garden</text>
<text x="739.6" y="308.5" font-size="10.2" fill="#2e2a2b" stroke="#2e2a2b" stroke-width="0.12" stroke-linejoin="round" textLength="57.4" lengthAdjust="spacingAndGlyphs">Greenhouses</text>
<text x="688" y="386.6" font-size="10.2" fill="#2e2a2b" stroke="#2e2a2b" stroke-width="0.12" stroke-linejoin="round" textLength="83.9" lengthAdjust="spacingAndGlyphs">Home Composting</text>
<text x="688" y="397.3" font-size="10.2" fill="#2e2a2b" stroke="#2e2a2b" stroke-width="0.12" stroke-linejoin="round" textLength="84.4" lengthAdjust="spacingAndGlyphs">Demonstration Site</text>
<text x="592" y="580.2" font-size="10.2" fill="#2e2a2b" stroke="#2e2a2b" stroke-width="0.12" stroke-linejoin="round" textLength="60.3" lengthAdjust="spacingAndGlyphs">Team Oregon</text>
<text x="596.7" y="592" font-size="10.2" fill="#2e2a2b" stroke="#2e2a2b" stroke-width="0.12" stroke-linejoin="round" textLength="50.5" lengthAdjust="spacingAndGlyphs">Motorcycle</text>
<text x="592.4" y="604.3" font-size="10.2" fill="#2e2a2b" stroke="#2e2a2b" stroke-width="0.12" stroke-linejoin="round" textLength="59" lengthAdjust="spacingAndGlyphs">Training Area</text>
<text x="561.7" y="637" font-size="8" fill="#2e2a2b" stroke="#2e2a2b" stroke-width="0.12" stroke-linejoin="round" textLength="37.7" lengthAdjust="spacingAndGlyphs">PGE Tower</text>
<text x="564.5" y="646.7" font-size="7.8" fill="#231f20" stroke="#231f20" stroke-width="0.12" stroke-linejoin="round" textLength="32.5" lengthAdjust="spacingAndGlyphs" font-weight="bold">RPOWER</text>
<text x="564.4" y="221.7" font-size="8.4" fill="#231f20" stroke="#231f20" stroke-width="0.12" stroke-linejoin="round" textLength="19.9" lengthAdjust="spacingAndGlyphs" font-weight="bold">RSB2</text>
<text x="459.6" y="304.4" font-size="8.4" fill="#231f20" stroke="#231f20" stroke-width="0.12" stroke-linejoin="round" textLength="18.6" lengthAdjust="spacingAndGlyphs" font-weight="bold">RSB1</text>
<text x="510.9" y="299.7" font-size="8.4" fill="#231f20" stroke="#231f20" stroke-width="0.12" stroke-linejoin="round" textLength="27.2" lengthAdjust="spacingAndGlyphs" font-weight="bold">RSOC2</text>
<text x="656" y="256.3" font-size="8.4" fill="#231f20" stroke="#231f20" stroke-width="0.12" stroke-linejoin="round" textLength="19.3" lengthAdjust="spacingAndGlyphs" font-weight="bold">RSB3</text>
<text x="606" y="321.4" font-size="8.4" fill="#231f20" stroke="#231f20" stroke-width="0.12" stroke-linejoin="round" textLength="29.7" lengthAdjust="spacingAndGlyphs" font-weight="bold">RBBALL</text>
<text x="512.5" y="358.3" font-size="8.2" fill="#231f20" stroke="#231f20" stroke-width="0.12" stroke-linejoin="round" textLength="31.7" lengthAdjust="spacingAndGlyphs" font-weight="bold">RTRACK</text>
<path d="M802.4 279 L802.4 289" stroke="#231f20" stroke-width="0.9"/>
<polygon points="799.7,288 805.1,288 802.4,294" fill="#231f20" stroke="none" stroke-width="0" />
<rect x="370.5" y="252.3" width="18.5" height="17.2" rx="1.6" fill="#fff" stroke="#9d9fa2" stroke-width="0.9" />
<g transform="translate(370.5 252.3) scale(0.93 0.86)" fill="none" stroke="#231f20" stroke-linecap="round" stroke-linejoin="round">
<circle cx="10.6" cy="2.6" r="1.25" fill="#231f20" stroke="none"/>
<path d="M9 5 L7.2 10.4" stroke-width="2.5"/>
<path d="M7.8 5.2 L5.9 7.2 L6.3 9.4" stroke-width="1"/>
<path d="M9.6 5.4 L11.2 7.5 L13.5 7.5" stroke-width="1"/>
<path d="M7.4 10.6 L10.3 12 L8.6 13.2" stroke-width="1.4"/>
<path d="M7.2 10.8 L6.9 14 L5.8 17.6" stroke-width="1.4"/>
</g>
<rect x="152.5" y="602" width="18" height="18" rx="1.6" fill="#fff" stroke="#9d9fa2" stroke-width="0.9" />
<g transform="translate(152.5 602) scale(0.9 0.9)" fill="none" stroke="#231f20" stroke-linecap="round" stroke-linejoin="round">
<circle cx="10.6" cy="2.6" r="1.25" fill="#231f20" stroke="none"/>
<path d="M9 5 L7.2 10.4" stroke-width="2.5"/>
<path d="M7.8 5.2 L5.9 7.2 L6.3 9.4" stroke-width="1"/>
<path d="M9.6 5.4 L11.2 7.5 L13.5 7.5" stroke-width="1"/>
<path d="M7.4 10.6 L10.3 12 L8.6 13.2" stroke-width="1.4"/>
<path d="M7.2 10.8 L6.9 14 L5.8 17.6" stroke-width="1.4"/>
</g>
<rect x="658.2" y="634.3" width="17.5" height="17.7" rx="1.6" fill="#fff" stroke="#9d9fa2" stroke-width="0.9" />
<g transform="translate(658.2 634.3) scale(0.88 0.89)" fill="none" stroke="#231f20" stroke-linecap="round" stroke-linejoin="round">
<circle cx="10.6" cy="2.6" r="1.25" fill="#231f20" stroke="none"/>
<path d="M9 5 L7.2 10.4" stroke-width="2.5"/>
<path d="M7.8 5.2 L5.9 7.2 L6.3 9.4" stroke-width="1"/>
<path d="M9.6 5.4 L11.2 7.5 L13.5 7.5" stroke-width="1"/>
<path d="M7.4 10.6 L10.3 12 L8.6 13.2" stroke-width="1.4"/>
<path d="M7.2 10.8 L6.9 14 L5.8 17.6" stroke-width="1.4"/>
</g>
<rect x="491.3" y="350" width="17.7" height="17.3" rx="1.6" fill="#fff" stroke="#9d9fa2" stroke-width="0.9" />
<g transform="translate(491.3 350) scale(0.88 0.87)" fill="none" stroke="#231f20" stroke-linecap="round" stroke-linejoin="round">
<circle cx="10.6" cy="2.6" r="1.25" fill="#231f20" stroke="none"/>
<path d="M9 5 L7.2 10.4" stroke-width="2.5"/>
<path d="M7.8 5.2 L5.9 7.2 L6.3 9.4" stroke-width="1"/>
<path d="M9.6 5.4 L11.2 7.5 L13.5 7.5" stroke-width="1"/>
<path d="M7.4 10.6 L10.3 12 L8.6 13.2" stroke-width="1.4"/>
<path d="M7.2 10.8 L6.9 14 L5.8 17.6" stroke-width="1.4"/>
</g>
<rect x="563.2" y="226.2" width="18.8" height="18.3" rx="1.4" fill="#fff" stroke="#9d9fa2" stroke-width="0.9" />
<g transform="translate(563.2 226.2) scale(0.94 0.92)" fill="none" stroke="#231f20" stroke-linecap="round" stroke-linejoin="round">
<circle cx="8.5" cy="4.4" r="1.15" fill="#231f20" stroke="none"/>
<path d="M6.4 1.6 L5.3 6.8" stroke-width="0.7"/>
<circle cx="5.2" cy="7.2" r="0.8" fill="#231f20" stroke="none"/>
<path d="M9 6.6 L5.6 7.4" stroke-width="1.2"/>
<path d="M9.2 6.6 L10.2 12.2" stroke-width="2.2"/>
<path d="M10 12.4 L8.9 17.6" stroke-width="1.3"/>
<path d="M10.4 12 L13.8 17.2" stroke-width="1.3"/>
</g>
<rect x="437.5" y="303.4" width="17.8" height="17.1" rx="1.4" fill="#fff" stroke="#9d9fa2" stroke-width="0.9" />
<g transform="translate(437.5 303.4) scale(0.89 0.86)" fill="none" stroke="#231f20" stroke-linecap="round" stroke-linejoin="round">
<circle cx="8.5" cy="4.4" r="1.15" fill="#231f20" stroke="none"/>
<path d="M6.4 1.6 L5.3 6.8" stroke-width="0.7"/>
<circle cx="5.2" cy="7.2" r="0.8" fill="#231f20" stroke="none"/>
<path d="M9 6.6 L5.6 7.4" stroke-width="1.2"/>
<path d="M9.2 6.6 L10.2 12.2" stroke-width="2.2"/>
<path d="M10 12.4 L8.9 17.6" stroke-width="1.3"/>
<path d="M10.4 12 L13.8 17.2" stroke-width="1.3"/>
</g>
<rect x="656.3" y="261.2" width="18.1" height="17.8" rx="1.4" fill="#fff" stroke="#9d9fa2" stroke-width="0.9" />
<g transform="translate(656.3 261.2) scale(0.91 0.89)" fill="none" stroke="#231f20" stroke-linecap="round" stroke-linejoin="round">
<circle cx="8.5" cy="4.4" r="1.15" fill="#231f20" stroke="none"/>
<path d="M6.4 1.6 L5.3 6.8" stroke-width="0.7"/>
<circle cx="5.2" cy="7.2" r="0.8" fill="#231f20" stroke="none"/>
<path d="M9 6.6 L5.6 7.4" stroke-width="1.2"/>
<path d="M9.2 6.6 L10.2 12.2" stroke-width="2.2"/>
<path d="M10 12.4 L8.9 17.6" stroke-width="1.3"/>
<path d="M10.4 12 L13.8 17.2" stroke-width="1.3"/>
</g>
<rect x="615.1" y="327.6" width="17.7" height="17.5" rx="1.4" fill="#fff" stroke="#9d9fa2" stroke-width="0.9" />
<g transform="translate(615.1 327.6) scale(0.88 0.88)" fill="none" stroke="#231f20" stroke-linecap="round" stroke-linejoin="round">
<circle cx="8.5" cy="4.4" r="1.15" fill="#231f20" stroke="none"/>
<path d="M6.4 1.6 L5.3 6.8" stroke-width="0.7"/>
<circle cx="5.2" cy="7.2" r="0.8" fill="#231f20" stroke="none"/>
<path d="M9 6.6 L5.6 7.4" stroke-width="1.2"/>
<path d="M9.2 6.6 L10.2 12.2" stroke-width="2.2"/>
<path d="M10 12.4 L8.9 17.6" stroke-width="1.3"/>
<path d="M10.4 12 L13.8 17.2" stroke-width="1.3"/>
</g>
<rect x="516.2" y="303.7" width="18.6" height="17.9" rx="1.4" fill="#fff" stroke="#9d9fa2" stroke-width="0.9" />
<g transform="translate(516.2 303.7) scale(0.93 0.9)" fill="none" stroke="#231f20" stroke-linecap="round" stroke-linejoin="round">
<circle cx="13.1" cy="3" r="1.05" fill="#231f20" stroke="none"/>
<path d="M11.8 5 L9.8 9.4" stroke-width="1.8"/>
<path d="M10.8 4.9 L7.6 4.9 L6.6 7.2" stroke-width="0.9"/>
<path d="M12.4 6.2 L13.6 8.4 L15.4 10.4" stroke-width="0.9"/>
<path d="M9.6 9.4 L5.9 11.5 L2.2 10.2" stroke-width="1.2"/>
<path d="M9.9 9.6 L9.8 14 L7.6 17.3" stroke-width="1.2"/>
<circle cx="16.8" cy="16.6" r="1.2" stroke="#c8c9cb" stroke-width="0.6"/>
</g>
<rect x="352.7" y="437.6" width="13.3" height="13.1" rx="0.6" fill="#231f20" stroke="none" stroke-width="0" />
<circle cx="359.4" cy="444.1" r="5.9" fill="#fff"/>
<polygon points="359.4,439.6 360.5,442.8 363.9,442.9 361.2,444.9 362.1,448.2 359.4,446.2 356.6,448.2 357.5,444.9 354.8,442.9 358.2,442.8" fill="#231f20" stroke="none" stroke-width="0" />
<rect x="350.2" y="535.5" width="13.4" height="14" rx="1" fill="#231f20" stroke="none" stroke-width="0" />
<text x="357.2" y="548.3" style="font-family:'Liberation Serif',serif;font-style:italic;font-weight:bold" font-size="16" fill="#fff" stroke="#fff" stroke-width="0.28" text-anchor="middle">i</text>
<rect x="230.8" y="486.2" width="18" height="18" rx="1.4" fill="#231f20" stroke="none" stroke-width="0" />
<g transform="translate(230.8 486.2) scale(0.9 0.9)">
<path d="M2 2.6 L9.3 4.2 L9.3 16.8 Q6 14.6 2 14.6 Z" fill="#fff"/>
<path d="M18 2.6 L10.7 4.2 L10.7 16.8 Q14 14.6 18 14.6 Z" fill="#fff"/>
</g>
<rect x="268.3" y="646" width="17.7" height="17" rx="2.1" fill="#231f20" stroke="none" stroke-width="0" />
<g transform="translate(268.3 646) scale(0.88 0.85)">
<path d="M2.9 6 Q2.9 1.6 7 1.6 L13 1.6 Q17.1 1.6 17.1 6 L17.1 16.4 L2.9 16.4 Z" fill="#fff"/>
<path d="M6.1 5.4 L13.9 5.4 L14.7 10 L5.3 10 Z" fill="#231f20"/>
<rect x="6.5" y="3.1" width="7" height="0.8" fill="#231f20"/>
<rect x="4.3" y="11.7" width="2.1" height="1.5" fill="#231f20"/>
<rect x="13.6" y="11.7" width="2.1" height="1.5" fill="#231f20"/>
<rect x="3.6" y="16.2" width="3.7" height="1.9" fill="#fff"/>
<rect x="12.7" y="16.2" width="3.7" height="1.9" fill="#fff"/>
</g>
<polygon points="809.4,310.7 813,321.2 824.1,321.4 815.3,328.1 818.5,338.7 809.4,332.4 800.3,338.7 803.5,328.1 794.7,321.4 805.8,321.2" fill="#c4262e" stroke="none" stroke-width="0" />
<text x="788" y="359.9" font-size="18.6" fill="#c4262e" stroke="#c4262e" stroke-width="0.35" stroke-linejoin="round" textLength="89.2" lengthAdjust="spacingAndGlyphs" font-weight="bold">ROOM T150</text>
<rect x="724.5" y="463.5" width="131" height="174.7" rx="0" fill="#b1b3b6" stroke="none" stroke-width="0" />
<rect x="719.5" y="458" width="130.5" height="174.8" rx="0" fill="#fff" stroke="#231f20" stroke-width="0.8" />
<rect x="728.9" y="467.4" width="20.3" height="20" rx="1" fill="#231f20" stroke="none" stroke-width="0" />
<text x="739.4" y="485.7" style="font-family:'Liberation Serif',serif;font-style:italic;font-weight:bold" font-size="22.8" fill="#fff" stroke="#fff" stroke-width="0.4" text-anchor="middle">i</text>
<rect x="728.9" y="495.8" width="20.3" height="20" rx="0.6" fill="#231f20" stroke="none" stroke-width="0" />
<circle cx="739" cy="505.8" r="9" fill="#fff"/>
<polygon points="739,498.8 740.7,503.7 745.9,503.8 741.8,507 743.3,511.9 739,509 734.8,511.9 736.3,507 732.2,503.8 737.4,503.7" fill="#231f20" stroke="none" stroke-width="0" />
<rect x="728.9" y="523.4" width="20.3" height="19.4" rx="2.4" fill="#231f20" stroke="none" stroke-width="0" />
<g transform="translate(728.9 523.4) scale(1.02 0.97)">
<path d="M2.9 6 Q2.9 1.6 7 1.6 L13 1.6 Q17.1 1.6 17.1 6 L17.1 16.4 L2.9 16.4 Z" fill="#fff"/>
<path d="M6.1 5.4 L13.9 5.4 L14.7 10 L5.3 10 Z" fill="#231f20"/>
<rect x="6.5" y="3.1" width="7" height="0.8" fill="#231f20"/>
<rect x="4.3" y="11.7" width="2.1" height="1.5" fill="#231f20"/>
<rect x="13.6" y="11.7" width="2.1" height="1.5" fill="#231f20"/>
<rect x="3.6" y="16.2" width="3.7" height="1.9" fill="#fff"/>
<rect x="12.7" y="16.2" width="3.7" height="1.9" fill="#fff"/>
</g>
<rect x="728.9" y="551" width="20.3" height="19" rx="1" fill="#231f20" stroke="none" stroke-width="0" />
<text x="739.4" y="569" font-size="22.8" font-weight="bold" fill="#fff" text-anchor="middle" transform="translate(739 0) scale(0.9 1) translate(-739 0)">P</text>
<rect x="728.4" y="577.4" width="21.3" height="20.3" rx="1.6" fill="#fff" stroke="#9d9fa2" stroke-width="0.9" />
<g transform="translate(728.4 577.4) scale(1.07 1.02)" fill="none" stroke="#231f20" stroke-linecap="round" stroke-linejoin="round">
<circle cx="10.6" cy="2.6" r="1.25" fill="#231f20" stroke="none"/>
<path d="M9 5 L7.2 10.4" stroke-width="2.5"/>
<path d="M7.8 5.2 L5.9 7.2 L6.3 9.4" stroke-width="1"/>
<path d="M9.6 5.4 L11.2 7.5 L13.5 7.5" stroke-width="1"/>
<path d="M7.4 10.6 L10.3 12 L8.6 13.2" stroke-width="1.4"/>
<path d="M7.2 10.8 L6.9 14 L5.8 17.6" stroke-width="1.4"/>
</g>
<rect x="728.9" y="604.5" width="20.3" height="19.7" rx="1.6" fill="#231f20" stroke="none" stroke-width="0" />
<g transform="translate(728.9 604.5) scale(1.02 0.99)">
<path d="M2 2.6 L9.3 4.2 L9.3 16.8 Q6 14.6 2 14.6 Z" fill="#fff"/>
<path d="M18 2.6 L10.7 4.2 L10.7 16.8 Q14 14.6 18 14.6 Z" fill="#fff"/>
</g>
<text x="758.1" y="478.8" font-size="13.2" fill="#1a1718" stroke="#1a1718" stroke-width="0.15" stroke-linejoin="round" textLength="62.2" lengthAdjust="spacingAndGlyphs" font-weight="bold">Information</text>
<text x="758.1" y="489" font-size="9.8" fill="#3a3637" stroke="#3a3637" stroke-width="0.12" stroke-linejoin="round" textLength="82.2" lengthAdjust="spacingAndGlyphs">Community Center</text>
<text x="758.1" y="506.6" font-size="13.2" fill="#1a1718" stroke="#1a1718" stroke-width="0.15" stroke-linejoin="round" textLength="76.8" lengthAdjust="spacingAndGlyphs" font-weight="bold">College Safety</text>
<text x="758.1" y="517.2" font-size="9.8" fill="#3a3637" stroke="#3a3637" stroke-width="0.12" stroke-linejoin="round" textLength="68.9" lengthAdjust="spacingAndGlyphs">McLoughlin Hall</text>
<text x="758.1" y="534.2" font-size="13.2" fill="#1a1718" stroke="#1a1718" stroke-width="0.15" stroke-linejoin="round" textLength="47" lengthAdjust="spacingAndGlyphs" font-weight="bold">Bus Stop</text>
<text x="758.1" y="561.8" font-size="13.2" fill="#1a1718" stroke="#1a1718" stroke-width="0.15" stroke-linejoin="round" textLength="41.1" lengthAdjust="spacingAndGlyphs" font-weight="bold">Parking</text>
<text x="758.1" y="589.6" font-size="13.2" fill="#1a1718" stroke="#1a1718" stroke-width="0.15" stroke-linejoin="round" textLength="70.3" lengthAdjust="spacingAndGlyphs" font-weight="bold">Jogging Trail</text>
<text x="758.1" y="617.2" font-size="13.2" fill="#1a1718" stroke="#1a1718" stroke-width="0.15" stroke-linejoin="round" textLength="37.9" lengthAdjust="spacingAndGlyphs" font-weight="bold">Library</text>
</svg>
</body>
</html>
